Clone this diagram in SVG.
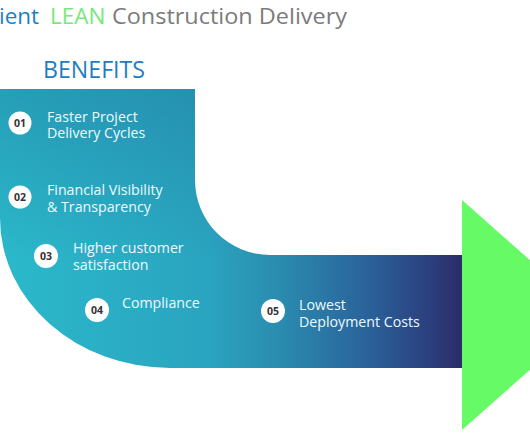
<svg xmlns="http://www.w3.org/2000/svg" width="530" height="442" viewBox="0 0 530 442">
  <defs>
    <linearGradient id="bandGrad" gradientUnits="userSpaceOnUse" x1="0" y1="0" x2="462" y2="0">
      <stop offset="0" stop-color="#2bb9cb"/>
      <stop offset="0.45" stop-color="#2aa4c0"/>
      <stop offset="0.6" stop-color="#2a8db0"/>
      <stop offset="0.8" stop-color="#2a619a"/>
      <stop offset="0.93" stop-color="#2b3f7d"/>
      <stop offset="1" stop-color="#2b2c69"/>
    </linearGradient>
    <linearGradient id="shadeGrad" gradientUnits="userSpaceOnUse" x1="0" y1="89" x2="0" y2="260">
      <stop offset="0" stop-color="#1a5f8a" stop-opacity="0.3"/>
      <stop offset="1" stop-color="#1a5f8a" stop-opacity="0"/>
    </linearGradient>
  </defs>
  <style>
    .item { font-family: "Open Sans", "Noto Sans", sans-serif; font-size: 14.2px; fill: #eefaff; }
    .badge { fill: #ffffff; }
    .num { font-family: "Open Sans", "Noto Sans", sans-serif; font-size: 10.5px; font-weight: bold; fill: #333333; text-anchor: middle; }
    .title { font-family: "Open Sans", "Noto Sans", sans-serif; font-size: 22.5px; }
  </style>

  <g id="title">
    <text class="title" y="24"><tspan x="-1" fill="#1f7fc0">ient</tspan><tspan x="50" fill="#77e87a">LEAN</tspan><tspan x="112" fill="#7b7b7b" textLength="235" lengthAdjust="spacingAndGlyphs">Construction Delivery</tspan></text>
  </g>

  <g id="heading">
    <text x="43" y="78" font-family="Open Sans, Noto Sans, sans-serif" font-size="23" fill="#1f7cc1" textLength="102" lengthAdjust="spacingAndGlyphs">BENEFITS</text>
  </g>

  <g id="band">
    <path d="M 0 89 H 195 V 180 A 75 75 0 0 0 270 255 H 462 V 368 H 170 A 170 150 0 0 1 0 218 Z" fill="url(#bandGrad)"/>
    <path d="M 0 89 H 195 V 180 A 75 75 0 0 0 270 255 H 462 V 368 H 170 A 170 150 0 0 1 0 218 Z" fill="url(#shadeGrad)"/>
  </g>

  <g id="arrowhead">
    <polygon points="462,200 592,315 462,430" fill="#66fb66"/>
  </g>

  <g id="item1">
    <circle class="badge" cx="20" cy="123" r="11.5"/>
    <text class="num" x="20" y="126.5">01</text>
    <text class="item" x="47" y="122">Faster Project<tspan x="47" dy="16">Delivery Cycles</tspan></text>
  </g>

  <g id="item2">
    <circle class="badge" cx="20" cy="197" r="11.5"/>
    <text class="num" x="20" y="200.5">02</text>
    <text class="item" x="47" y="195">Financial Visibility<tspan x="47" dy="17">&amp; Transparency</tspan></text>
  </g>

  <g id="item3">
    <circle class="badge" cx="46" cy="256" r="12"/>
    <text class="num" x="46" y="259.5">03</text>
    <text class="item" x="73" y="253">Higher customer<tspan x="73" dy="17">satisfaction</tspan></text>
  </g>

  <g id="item4">
    <circle class="badge" cx="97" cy="310" r="12"/>
    <text class="num" x="97" y="313.5">04</text>
    <text class="item" x="122" y="308">Compliance</text>
  </g>

  <g id="item5">
    <circle class="badge" cx="273" cy="311" r="12"/>
    <text class="num" x="273" y="314.5">05</text>
    <text class="item" x="299" y="310">Lowest<tspan x="299" dy="17">Deployment Costs</tspan></text>
  </g>
</svg>
